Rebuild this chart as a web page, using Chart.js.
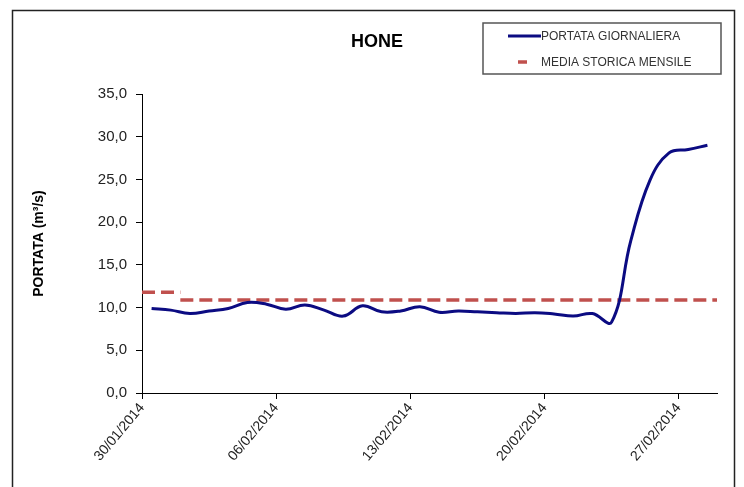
<!DOCTYPE html>
<html>
<head>
<meta charset="utf-8">
<script src="https://cdn.jsdelivr.net/npm/chart.js@4.4.1/dist/chart.umd.min.js"></script>
<style>
  html, body { margin: 0; padding: 0; background: #fff; }
  #wrap { width: 744px; height: 487px; }
</style>
</head>
<body>
<div id="wrap"><canvas id="hone" width="744" height="487"></canvas></div>
<script>
const titolo = 'HONE';

// portata giornaliera 30/01/2014 - 28/02/2014 (m3/s)
const portata = [9.9, 9.7, 9.3, 9.6, 9.9, 10.6, 10.4, 9.8, 10.3, 9.7,
                 9.0, 10.2, 9.5, 9.6, 10.1, 9.45, 9.6, 9.5, 9.4, 9.3,
                 9.4, 9.25, 9.0, 9.3, 8.3, 17.8, 24.9, 28.1, 28.5, 29.0];

// media storica mensile (gennaio, febbraio) e giorni coperti
const mesi = ['Gennaio', 'Febbraio'];
const mediaStorica = [11.8, 10.9];
const meseDa = [0, 2];
const meseA = [2, 30];

// etichette asse x
const tickGiorni = [0, 7, 14, 21, 28];
const tickLabels = ['30/01/2014', '06/02/2014', '13/02/2014', '20/02/2014', '27/02/2014'];
const yTicks = [0, 5, 10, 15, 20, 25, 30, 35];

const font = 'Liberation Sans, Arial, sans-serif';

// punti al centro di ogni giorno
const puntiPortata = portata.map((v, i) => ({ x: i + 0.5, y: v }));

// media a gradini, con un buco tra un mese e l'altro
const puntiMedia = [];
mediaStorica.forEach((v, i) => {
    if (i > 0) puntiMedia.push({ x: meseDa[i], y: null });
    puntiMedia.push({ x: meseDa[i], y: v });
    puntiMedia.push({ x: meseA[i], y: v });
});

// cornice, titolo e legenda
const cornice = {
    id: 'cornice',
    beforeDraw(chart) {
        const ctx = chart.ctx;
        ctx.save();
        ctx.fillStyle = '#fff';
        ctx.fillRect(0, 0, chart.width, chart.height);
        ctx.strokeStyle = '#222';
        ctx.lineWidth = 1.5;
        ctx.strokeRect(12.5, 10.5, 722, 520);
        ctx.restore();
    },
    afterDraw(chart) {
        const ctx = chart.ctx;
        ctx.save();
        ctx.fillStyle = '#000';
        ctx.font = 'bold 18px ' + font;
        ctx.textAlign = 'center';
        ctx.textBaseline = 'middle';
        ctx.fillText(titolo, 377, 42);

        // legenda
        ctx.strokeStyle = '#555';
        ctx.lineWidth = 1.5;
        ctx.strokeRect(483, 23, 238, 51);
        const righe = [
            { y: 36, x0: 508, x1: 541 },
            { y: 62, x0: 518, x1: 527 }
        ];
        ctx.font = '12px ' + font;
        ctx.textAlign = 'left';
        chart.data.datasets.forEach((ds, i) => {
            const r = righe[i];
            ctx.strokeStyle = ds.borderColor;
            ctx.lineWidth = ds.borderWidth;
            ctx.setLineDash([]);
            ctx.beginPath();
            ctx.moveTo(r.x0, r.y);
            ctx.lineTo(r.x1, r.y);
            ctx.stroke();
            ctx.fillStyle = '#333';
            ctx.fillText(ds.label, 541, r.y + 1);
        });
        ctx.restore();
    }
};

new Chart(document.getElementById('hone'), {
    type: 'line',
    data: {
        datasets: [{
            label: 'PORTATA GIORNALIERA',
            data: puntiPortata,
            borderColor: '#0b0b82',
            borderWidth: 3,
            pointRadius: 0,
            tension: 0.4,
            fill: false
        }, {
            label: 'MEDIA STORICA MENSILE',
            data: puntiMedia,
            borderColor: '#c0504d',
            borderWidth: 3.5,
            borderDash: [13, 6],
            pointRadius: 0,
            tension: 0,
            spanGaps: false,
            fill: false
        }]
    },
    options: {
        responsive: false,
        animation: false,
        layout: { padding: { left: 0, top: 94, right: 27, bottom: 0 } },
        plugins: {
            legend: { display: false },
            title: { display: false },
            tooltip: { enabled: false }
        },
        scales: {
            x: {
                type: 'linear',
                min: 0,
                max: 30,
                afterBuildTicks: (s) => { s.ticks = tickGiorni.map(v => ({ value: v })); },
                afterFit: (s) => { s.height = 94; },
                grid: { display: true, drawOnChartArea: false, drawTicks: true, tickLength: 6, color: '#000' },
                border: { display: true, color: '#000', width: 1 },
                ticks: {
                    autoSkip: false,
                    minRotation: 50,
                    maxRotation: 50,
                    padding: 1,
                    color: '#222',
                    font: { family: font, size: 14 },
                    callback: (v) => tickLabels[tickGiorni.indexOf(v)]
                }
            },
            y: {
                min: 0,
                max: 35,
                afterBuildTicks: (s) => { s.ticks = yTicks.map(v => ({ value: v })); },
                afterFit: (s) => { s.width = 142; },
                grid: { display: true, drawOnChartArea: false, drawTicks: true, tickLength: 6, color: '#000' },
                border: { display: true, color: '#000', width: 1 },
                title: {
                    display: true,
                    text: 'PORTATA (m³/s)',
                    color: '#000',
                    font: { family: font, size: 14, weight: 'bold' },
                    padding: { top: 31, bottom: 0 }
                },
                ticks: {
                    padding: 9,
                    color: '#222',
                    font: { family: font, size: 15 },
                    callback: (v) => v.toFixed(1).replace('.', ',')
                }
            }
        }
    },
    plugins: [cornice]
});
</script>
</body>
</html>
